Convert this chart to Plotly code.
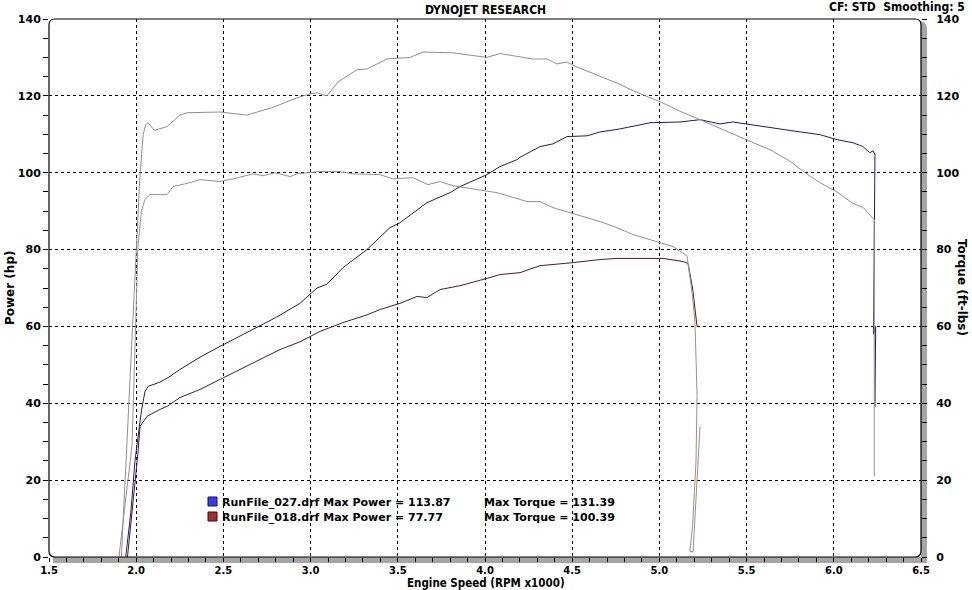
import plotly.graph_objects as go

# ---------------- data (RPM x1000) ----------------
rpm_027_tq = [1.915, 1.936, 1.98, 2.02, 2.04, 2.055, 2.068, 2.105, 2.177, 2.251, 2.29, 2.48,
              2.635, 2.784, 2.922, 2.997, 3.037, 3.094, 3.157, 3.266, 3.323, 3.438, 3.57, 3.644,
              3.817, 4.011, 4.086, 4.275, 4.355, 4.413, 4.47, 4.528, 4.774, 4.85, 5.003, 5.118,
              5.233, 5.347, 5.502, 5.634, 5.749, 5.835, 5.921, 6.018, 6.11, 6.167, 6.225, 6.232, 6.232]
tq_027 = [0, 20, 60, 98, 110, 112.5, 113, 111, 112, 115, 115.6, 115.8,
          115, 117, 119.5, 120.5, 120.8, 120, 123.6, 126.8, 127, 129.6, 130, 131.4,
          131.2, 130, 131, 129.6, 129.6, 128.3, 128.8, 127.5, 123, 121.3, 118.5, 116,
          113.8, 111.5, 108.5, 106, 103, 100, 97.4, 95, 92, 91, 88.3, 87.8, 21]

rpm_018_tq = [1.901, 1.94, 1.976, 1.999, 2.01, 2.03, 2.05, 2.079, 2.119, 2.177, 2.211, 2.308,
              2.366, 2.48, 2.555, 2.67, 2.727, 2.796, 2.882, 2.922, 3.054, 3.169, 3.243, 3.398,
              3.472, 3.587, 3.673, 3.742, 3.817, 3.971, 4.069, 4.241, 4.315, 4.39, 4.505, 4.659,
              4.757, 4.849, 5.003, 5.078, 5.158, 5.19, 5.204, 5.21, 5.216, 5.21, 5.19, 5.175,
              5.193, 5.233]
tq_018 = [0, 15, 29, 63.6, 80.8, 90, 93, 94.3, 94.3, 94.3, 96.4, 97.4,
          98.2, 97.7, 98.4, 99.7, 99.2, 100, 99, 99.7, 100.3, 100.3, 99.7, 99.5,
          98.4, 98.7, 96.9, 97.7, 96.6, 95.6, 94.8, 92.5, 92.5, 90.9, 89.4, 87.3,
          85.7, 83.9, 81.8, 80.8, 78.4, 68, 61, 50, 42, 25, 8, 1.5,
          1.3, 34]

rpm_027_pw = [1.94, 1.97, 1.993, 2.03, 2.05, 2.068, 2.136, 2.177, 2.251, 2.366, 2.48, 2.635,
              2.80, 2.939, 3.037, 3.094, 3.186, 3.323, 3.455, 3.513, 3.667, 3.799, 3.857, 4.011,
              4.086, 4.183, 4.201, 4.315, 4.39, 4.47, 4.585, 4.659, 4.774, 4.946, 5.118, 5.233,
              5.29, 5.347, 5.42, 5.502, 5.634, 5.749, 5.921, 6.018, 6.11, 6.167, 6.207, 6.225,
              6.236, 6.232, 6.228, 6.24, 6.236]
pw_027 = [0, 12, 25, 38, 43, 44.4, 45.5, 46.5, 48.8, 52, 54.8, 58.4,
          62.3, 66, 70, 71, 75.3, 80, 85.7, 87, 92.2, 94.8, 96.4, 99.5,
          101.6, 103.4, 104, 106.8, 107.5, 109.4, 109.6, 110.6, 111.4, 113, 113.2, 113.8,
          113.2, 112.7, 113.2, 112.7, 111.7, 111, 109.9, 108.6, 107.8, 106.8, 105.2, 105.7,
          104.7, 65, 58, 60, 39]

rpm_018_pw = [1.95, 1.985, 2.01, 2.022, 2.062, 2.136, 2.177, 2.251, 2.366, 2.48, 2.652, 2.825,
              2.939, 3.054, 3.186, 3.323, 3.398, 3.513, 3.61, 3.667, 3.742, 3.857, 4.011, 4.086,
              4.201, 4.315, 4.505, 4.659, 4.757, 4.946, 5.021, 5.135, 5.164, 5.19, 5.216]
pw_018 = [0, 15, 27, 34, 36.6, 38.4, 39.2, 41.5, 43.6, 46.2, 50, 54,
          56, 58.7, 61, 63, 64.4, 66, 67.8, 67.5, 69.6, 70.6, 72.5, 73.5,
          74, 75.8, 76.6, 77.4, 77.7, 77.7, 77.7, 76.9, 76.4, 70, 60]

run_names = ["RunFile_027.drf", "RunFile_018.drf"]
max_power = ["113.87", "77.77"]
max_torque = ["131.39", "100.39"]

# ---------------- figure ----------------
W, H = 972, 590
L, R, T, B = 49, 51, 19, 33
PW, PH = W - L - R, H - T - B
BOT = H - B  # pixel row of the x axis


def px(x):
    return (x - L) / PW


def py(y):
    return (BOT - y) / PH


FONT = "DejaVu Sans, Verdana, sans-serif"
NARROW = "DejaVu Sans Condensed, Liberation Sans Narrow, DejaVu Sans, sans-serif"

fig = go.Figure()
fig.add_trace(go.Scatter(x=rpm_018_tq, y=tq_018, mode="lines", yaxis="y2",
                         line=dict(color="#a08c8c", width=1), hoverinfo="skip"))
fig.add_trace(go.Scatter(x=rpm_027_tq, y=tq_027, mode="lines", yaxis="y2",
                         line=dict(color="#8e8e9a", width=1), hoverinfo="skip"))
fig.add_trace(go.Scatter(x=rpm_018_pw, y=pw_018, mode="lines",
                         line=dict(color="#561818", width=1), hoverinfo="skip"))
fig.add_trace(go.Scatter(x=rpm_027_pw, y=pw_027, mode="lines",
                         line=dict(color="#1c1c6c", width=1), hoverinfo="skip"))

tickfont = dict(family=FONT, size=11, color="black", weight="bold")
xtickfont = dict(family=FONT, size=10, color="black", weight="bold")

fig.update_layout(
    width=W, height=H, autosize=False,
    margin=dict(l=L, r=R, t=T, b=B, pad=0),
    paper_bgcolor="white", plot_bgcolor="white",
    showlegend=False,
    xaxis=dict(range=[1.5, 6.5], tick0=1.5, dtick=0.5, tickformat=".1f",
               showgrid=True, gridcolor="black", gridwidth=1, griddash="3px,3px",
               zeroline=False, showline=False,
               ticks="outside", ticklen=4, tickcolor="black", tickwidth=1,
               minor=dict(dtick=0.1, ticks="outside", ticklen=4, tickcolor="black", showgrid=False),
               ticklabelstandoff=0, tickfont=xtickfont),
    yaxis=dict(range=[0, 140], tick0=0, dtick=20,
               showgrid=True, gridcolor="black", gridwidth=1, griddash="3px,3px",
               zeroline=False, showline=False,
               ticks="outside", ticklen=5, tickcolor="black", tickwidth=1,
               minor=dict(dtick=5, ticks="outside", ticklen=5, tickcolor="black", showgrid=False),
               tickfont=tickfont),
    yaxis2=dict(range=[0, 140], tick0=0, dtick=20, overlaying="y", side="right",
                showgrid=False, zeroline=False, showline=False,
                ticks="outside", ticklen=5, tickcolor="black", tickwidth=1,
                minor=dict(dtick=5, ticks="outside", ticklen=5, tickcolor="black", showgrid=False),
                ticklabelstandoff=7, tickfont=tickfont),
)

# shadow bars (bottom and right)
shadow = "#a6a6a6"
fig.add_shape(type="rect", xref="paper", yref="paper", layer="below",
              x0=px(53), x1=px(927), y0=py(BOT), y1=py(BOT + 6),
              fillcolor=shadow, line=dict(width=0))
fig.add_shape(type="path", xref="paper", yref="paper", layer="below",
              path=f"M {px(921)},{py(BOT + 6)} L {px(927)},{py(BOT + 6)} L {px(927)},{py(30)} "
                   f"Q {px(927)},{py(22)} {px(921)},{py(21)} Z",
              fillcolor=shadow, line=dict(width=0))

# rounded frame
rx, ry = 6 / PW, 6 / PH
frame = (f"M 0,{ry} L 0,{1 - ry} Q 0,1 {rx},1 L {1 - rx},1 Q 1,1 1,{1 - ry} "
         f"L 1,{ry} Q 1,0 {1 - rx},0 L {rx},0 Q 0,0 0,{ry} Z")
fig.add_shape(type="path", xref="paper", yref="paper", path=frame,
              line=dict(color="black", width=1.2), fillcolor="rgba(0,0,0,0)")

# legend squares
for i, (c1, c2) in enumerate([("#3a3ae0", "#12125a"), ("#a03030", "#3a0e0e")]):
    top = 497 + i * 15
    fig.add_shape(type="rect", xref="paper", yref="paper",
                  x0=px(208), x1=px(217), y0=py(top + 9), y1=py(top),
                  fillcolor=c1, line=dict(color=c2, width=1))

annos = []
annos.append(dict(text="DYNOJET RESEARCH", x=px(486), y=py(10), xanchor="center", yanchor="middle",
                  font=dict(family=NARROW, size=12, color="black", weight="bold")))
annos.append(dict(text="CF: STD\u00a0\u00a0Smoothing: 5", x=px(966), y=py(7), xanchor="right",
                  yanchor="middle", font=dict(family=NARROW, size=12, color="black", weight="bold")))
annos.append(dict(text="Engine Speed (RPM x1000)", x=px(486), y=py(590.5), xanchor="center",
                  yanchor="bottom", font=dict(family=NARROW, size=11.5, color="black", weight="bold")))
annos.append(dict(text="Power (hp)", x=px(10), y=py(288), xanchor="center", yanchor="middle",
                  textangle=-90, font=dict(family=FONT, size=12, color="black", weight="bold")))
annos.append(dict(text="Torque (ft-lbs)", x=px(962), y=py(288), xanchor="center", yanchor="middle",
                  textangle=90, font=dict(family=FONT, size=12, color="black", weight="bold")))
for i in range(2):
    yc = 502 + i * 15
    annos.append(dict(text=f"{run_names[i]} Max Power = {max_power[i]}", x=px(221), y=py(yc),
                      xanchor="left", yanchor="middle",
                      font=dict(family=FONT, size=11, color="black", weight="bold")))
    annos.append(dict(text=f"Max Torque = {max_torque[i]}", x=px(616), y=py(yc),
                      xanchor="right", yanchor="middle",
                      font=dict(family=FONT, size=11, color="black", weight="bold")))
for a in annos:
    a.update(xref="paper", yref="paper", showarrow=False, borderpad=0)
fig.update_layout(annotations=annos)

fig.write_html("out.html")
